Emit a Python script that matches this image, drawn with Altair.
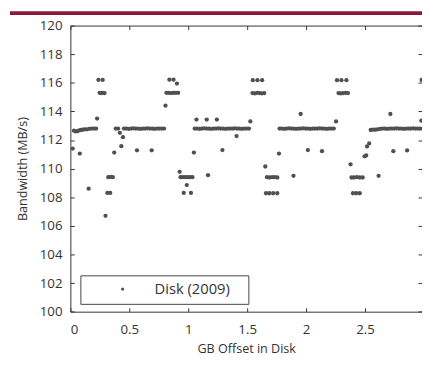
import altair as alt
import pandas as pd

# ---- data ----
gb_offset = [
    0.02, 0.03, 0.045, 0.06, 0.075, 0.08, 0.09, 0.105, 0.12, 0.14, 0.155, 0.16, 0.18, 0.20, 0.218, 0.227,
    0.238, 0.274, 0.248, 0.262, 0.276, 0.29, 0.298, 0.314, 0.338, 0.322, 0.342, 0.36,
    0.372, 0.385, 0.405, 0.42, 0.432, 0.446,
    0.455, 0.475, 0.495, 0.515, 0.535, 0.555, 0.575, 0.595, 0.615, 0.635, 0.655, 0.675,
    0.695, 0.715, 0.735, 0.755, 0.775, 0.795, 0.565, 0.69,
    0.807, 0.815, 0.835, 0.855, 0.875, 0.895, 0.915, 0.84, 0.875, 0.904,
    0.927, 0.935, 0.955, 0.975, 0.995, 1.015, 1.035, 0.9875, 0.962, 1.023,
    1.048, 1.07, 1.157, 1.243, 1.168, 1.29, 1.41,
    1.055, 1.075, 1.095, 1.115, 1.135, 1.155, 1.175, 1.195, 1.215, 1.235, 1.255, 1.275,
    1.295, 1.315, 1.335, 1.355, 1.375, 1.395, 1.415, 1.435, 1.455, 1.475, 1.495, 1.515,
    1.527, 1.548, 1.587, 1.627, 1.545, 1.565, 1.585, 1.605, 1.625, 1.645,
    1.654, 1.668, 1.69, 1.712, 1.734, 1.756, 1.66, 1.688, 1.72, 1.755,
    1.77, 1.893, 1.954, 2.015, 2.135,
    1.775, 1.795, 1.815, 1.835, 1.855, 1.875, 1.895, 1.915, 1.935, 1.955, 1.975, 1.995,
    2.015, 2.035, 2.055, 2.075, 2.095, 2.115, 2.135, 2.155, 2.175, 2.195, 2.215, 2.235,
    2.254, 2.262, 2.30, 2.342, 2.275, 2.295, 2.315, 2.335, 2.355,
    2.377, 2.385, 2.405, 2.43, 2.455, 2.48, 2.398, 2.425, 2.455,
    2.496, 2.51, 2.517, 2.535, 2.615, 2.715, 2.74, 2.857,
    2.548, 2.568, 2.588, 2.608, 2.628, 2.648, 2.668, 2.688, 2.708, 2.728, 2.748,
    2.768, 2.788, 2.808, 2.828, 2.848, 2.868, 2.888, 2.908, 2.928, 2.948, 2.968,
    2.978, 2.98,
]
bandwidth = [
    111.4, 112.65, 112.6, 112.62, 112.68, 111.05, 112.7, 112.72, 112.75, 112.75, 108.6, 112.78, 112.8, 112.8, 112.8, 113.5,
    116.2, 116.2, 115.3, 115.28, 115.3, 115.28, 106.7, 108.3, 108.3, 109.4, 109.42, 109.4,
    111.12, 112.8, 112.8, 112.5, 111.57, 112.2,
    112.8, 112.8, 112.78, 112.8, 112.82, 112.8, 112.8, 112.78, 112.8, 112.8, 112.82, 112.8,
    112.8, 112.78, 112.8, 112.8, 112.8, 112.8, 111.28, 111.28,
    114.4, 115.3, 115.3, 115.28, 115.3, 115.3, 115.3, 116.22, 116.22, 115.95,
    109.78, 109.4, 109.4, 109.4, 109.4, 109.4, 109.4, 108.85, 108.3, 108.3,
    111.12, 113.43, 113.43, 113.43, 109.54, 111.3, 112.28,
    112.8, 112.8, 112.78, 112.8, 112.82, 112.8, 112.8, 112.78, 112.8, 112.8, 112.82, 112.8,
    112.8, 112.78, 112.8, 112.8, 112.8, 112.82, 112.8, 112.8, 112.78, 112.8, 112.8, 112.8,
    113.3, 116.18, 116.18, 116.18, 115.28, 115.26, 115.3, 115.28, 115.26, 115.28,
    110.15, 109.4, 109.38, 109.4, 109.4, 109.38, 108.28, 108.28, 108.28, 108.28,
    111.05, 109.5, 113.82, 111.3, 111.22,
    112.8, 112.8, 112.78, 112.8, 112.82, 112.8, 112.8, 112.78, 112.8, 112.8, 112.82, 112.8,
    112.8, 112.78, 112.8, 112.8, 112.8, 112.82, 112.8, 112.8, 112.78, 112.8, 112.8, 112.8,
    113.3, 116.18, 116.18, 116.18, 115.28, 115.26, 115.28, 115.3, 115.28,
    110.3, 109.38, 109.38, 109.4, 109.38, 109.38, 108.28, 108.28, 108.28,
    110.86, 110.92, 111.55, 111.76, 109.5, 113.82, 111.22, 111.27,
    112.7, 112.72, 112.72, 112.75, 112.78, 112.8, 112.8, 112.78, 112.8, 112.8, 112.8,
    112.82, 112.8, 112.8, 112.78, 112.8, 112.8, 112.8, 112.82, 112.8, 112.8, 112.8,
    113.35, 116.2,
]
series_name = "Disk (2009)"

x_tick_values = [0, 0.5, 1, 1.5, 2, 2.5]
y_tick_values = [100, 102, 104, 106, 108, 110, 112, 114, 116, 118, 120]
x_domain = [0, 2.9833]
y_domain = [100, 120]

df = pd.DataFrame({"x": gb_offset, "y": bandwidth, "series": series_name})

FONT = "Open Sans"
INK = "#333333"
DOT = "#505050"
W, H = 358, 291.3
# trailing non-breaking spaces, closed by a zero-width space so Vega's trim keeps them
LEGEND_PAD = "\u00a0" * 3 + "\u200b"


def xs():
    return alt.Scale(domain=x_domain, nice=False, zero=False)


def ys():
    return alt.Scale(domain=y_domain, nice=False, zero=False)


tick_only = dict(ticks=True, tickSize=4, tickColor=INK, tickWidth=1, labels=False,
                 domain=False, grid=False, title=None, offset=-4)

points = alt.Chart(df).mark_circle(size=19, opacity=1).encode(
    x=alt.X("x:Q", scale=xs(), axis=alt.Axis(
        orient="bottom", values=x_tick_values, format="~g", ticks=False, domain=True,
        domainColor=INK, grid=False, labelPadding=11, title="GB Offset in Disk", titlePadding=7)),
    y=alt.Y("y:Q", scale=ys(), axis=alt.Axis(
        orient="left", values=y_tick_values, ticks=False, domain=True, domainColor=INK,
        grid=False, labelPadding=8.5, title="Bandwidth (MB/s)", titlePadding=10)),
    color=alt.Color("series:N", scale=alt.Scale(range=[DOT]), legend=alt.Legend(
        title=None, orient="none", legendX=10.2, legendY=254.3, padding=6.5,
        strokeColor="#444444", fillColor="white", symbolType="circle", symbolSize=10,
        symbolStrokeWidth=0, symbolOffset=29, labelOffset=25, labelFont=FONT,
        labelFontSize=15, labelColor=INK,
        labelExpr="datum.label + '" + LEGEND_PAD + "'")),
)

ticks_bl = alt.Chart(df).mark_circle(opacity=0).encode(
    x=alt.X("x:Q", scale=xs(), axis=alt.Axis(orient="bottom", values=x_tick_values, **tick_only)),
    y=alt.Y("y:Q", scale=ys(), axis=alt.Axis(orient="left", values=y_tick_values, **tick_only)),
)

ticks_tr = alt.Chart(df).mark_circle(opacity=0).encode(
    x=alt.X("x:Q", scale=xs(), axis=alt.Axis(orient="top", values=x_tick_values, **tick_only)),
    y=alt.Y("y:Q", scale=ys(), axis=alt.Axis(orient="right", values=y_tick_values, **tick_only)),
)

top_line = alt.Chart(df).mark_circle(opacity=0).encode(
    x=alt.X("x:Q", scale=xs(), axis=alt.Axis(orient="top", ticks=False, labels=False, domain=True,
                                               domainColor=INK, grid=False, title=None)),
    y=alt.Y("y:Q", scale=ys(), axis=None),
)

header_bar = alt.Chart(pd.DataFrame({"k": [0]})).mark_rule(color="#8a1a38", strokeWidth=4).encode(
    x=alt.value(-61.5), x2=alt.value(358), y=alt.value(-12.7)
)

chart = alt.layer(points, ticks_bl, ticks_tr, top_line, header_bar).resolve_scale(
    x="independent", y="independent"
).resolve_axis(
    x="independent", y="independent"
).properties(
    width=W, height=H,
    autosize=alt.AutoSizeParams(type="none"),
    padding={"left": 63.5, "top": 14.7, "right": 0, "bottom": 47},
).configure_view(stroke=None).configure_axis(
    labelFont=FONT, titleFont=FONT, labelFontSize=13.5, titleFontSize=12.8,
    labelColor=INK, titleColor=INK, titleFontWeight="normal",
)

chart.save("out.html", embed_options={"renderer": "svg", "actions": False})
